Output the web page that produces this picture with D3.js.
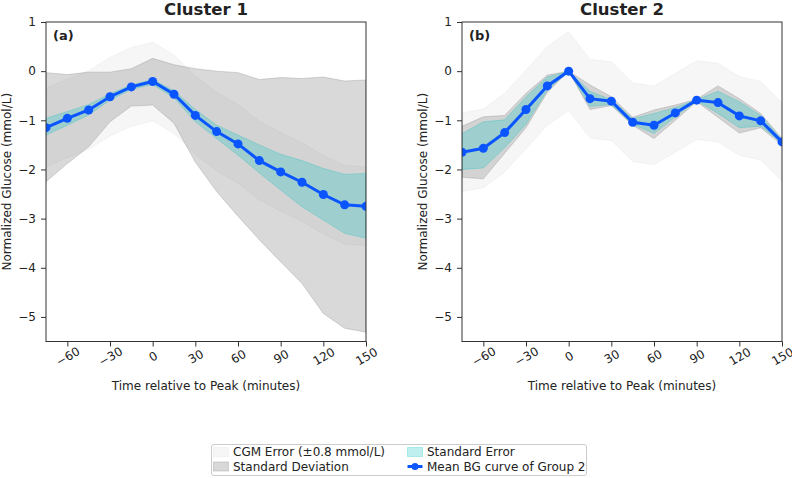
<!DOCTYPE html>
<html>
<head>
<meta charset="utf-8">
<script src="https://cdn.jsdelivr.net/npm/d3@7"></script>
<style>
  body { margin: 0; background: #fff; }
  svg text { font-family: "DejaVu Sans", sans-serif; fill: #222; }
</style>
</head>
<body>
<div id="chart"></div>
<script>
'use strict';

// Data ===========================================

var minutes = [-75, -60, -45, -30, -15, 0, 15, 30, 45, 60, 75, 90, 105, 120, 135, 150];
var xTicks = [-60, -30, 0, 30, 60, 90, 120, 150];
var yTicks = [1, 0, -1, -2, -3, -4, -5];
var cgmError = 0.8; // band is mean +/- 0.8 mmol/L (see legend)

// Cluster 1
var c1Mean = [-1.15, -0.96, -0.79, -0.52, -0.32, -0.21, -0.47, -0.90, -1.23, -1.48, -1.82, -2.05, -2.26, -2.51, -2.72, -2.75];
var c1SdHi = [-0.03, -0.07, -0.02, -0.02, 0.05, 0.26, 0.13, 0.05, 0.0, -0.03, -0.17, -0.13, -0.15, -0.12, -0.20, -0.18];
var c1SdLo = [-2.25, -1.88, -1.54, -1.03, -0.71, -0.69, -1.06, -1.85, -2.45, -2.95, -3.43, -3.88, -4.32, -4.93, -5.23, -5.31];
var c1SeHi = [-0.96, -0.82, -0.68, -0.46, -0.28, -0.17, -0.40, -0.78, -1.10, -1.30, -1.50, -1.69, -1.82, -1.98, -2.10, -2.08];
var c1SeLo = [-1.30, -1.10, -0.89, -0.59, -0.37, -0.27, -0.54, -1.03, -1.37, -1.71, -2.07, -2.42, -2.76, -3.03, -3.30, -3.40];

// Cluster 2
var c2Mean = [-1.65, -1.57, -1.25, -0.78, -0.30, 0.0, -0.56, -0.61, -1.04, -1.10, -0.85, -0.59, -0.64, -0.91, -1.01, -1.44];
var c2SdHi = [-1.12, -0.93, -0.90, -0.45, -0.08, 0.0, -0.28, -0.52, -0.94, -0.79, -0.69, -0.57, -0.30, -0.56, -0.86, -1.37];
var c2SdLo = [-2.16, -2.19, -1.67, -1.15, -0.43, 0.0, -0.78, -0.70, -1.10, -1.37, -1.00, -0.62, -0.94, -1.26, -1.15, -1.50];
var c2SeHi = [-1.27, -1.03, -0.99, -0.52, -0.12, 0.0, -0.41, -0.58, -0.97, -0.86, -0.74, -0.58, -0.41, -0.62, -0.90, -1.40];
var c2SeLo = [-2.00, -1.97, -1.56, -1.08, -0.39, 0.0, -0.72, -0.68, -1.08, -1.27, -0.93, -0.60, -0.86, -1.15, -1.12, -1.46];

var panels = [
  { title: 'Cluster 1', tag: '(a)', left: 46, mean: c1Mean, sdHi: c1SdHi, sdLo: c1SdLo, seHi: c1SeHi, seLo: c1SeLo },
  { title: 'Cluster 2', tag: '(b)', left: 462, mean: c2Mean, sdHi: c2SdHi, sdLo: c2SdLo, seHi: c2SeHi, seLo: c2SeLo }
];

// Sizing things.
var width = 792, height = 478;
var plotW = 320, plotTop = 22, plotBottom = 341.5;
var blue = '#0a55ff';

var svg = d3.select('#chart').append('svg')
    .attr('width', width)
    .attr('height', height);

var y = d3.scaleLinear().domain([-5.5, 1]).range([plotBottom, plotTop]);

function fmt(v) { return String(v).replace('-', '\u2212'); }

panels.forEach(function (p, i) {
  var x = d3.scaleLinear().domain([-75, 150]).range([p.left, p.left + plotW]);

  svg.append('clipPath').attr('id', 'clip' + i)
    .append('rect')
    .attr('x', p.left).attr('y', plotTop)
    .attr('width', plotW).attr('height', plotBottom - plotTop);

  var g = svg.append('g').attr('clip-path', 'url(#clip' + i + ')');

  function band(hi, lo) {
    return d3.area()
      .x(function (d, j) { return x(minutes[j]); })
      .y0(function (d, j) { return y(lo[j]); })
      .y1(function (d, j) { return y(hi[j]); })(minutes);
  }

  var cgmHi = p.mean.map(function (v) { return v + cgmError; });
  var cgmLo = p.mean.map(function (v) { return v - cgmError; });

  // CGM error band
  g.append('path').attr('d', band(cgmHi, cgmLo))
    .attr('fill', '#d3d3d3').attr('fill-opacity', 0.2)
    .attr('stroke', '#d3d3d3').attr('stroke-opacity', 0.2).attr('stroke-width', 1);

  // standard deviation
  g.append('path').attr('d', band(p.sdHi, p.sdLo))
    .attr('fill', '#808080').attr('fill-opacity', 0.3)
    .attr('stroke', '#808080').attr('stroke-opacity', 0.3).attr('stroke-width', 1);

  // standard error
  g.append('path').attr('d', band(p.seHi, p.seLo))
    .attr('fill', '#00bfbf').attr('fill-opacity', 0.25)
    .attr('stroke', '#00bfbf').attr('stroke-opacity', 0.25).attr('stroke-width', 1);

  // mean curve
  g.append('path')
    .attr('d', d3.line()
      .x(function (d, j) { return x(minutes[j]); })
      .y(function (d) { return y(d); })(p.mean))
    .attr('fill', 'none').attr('stroke', blue).attr('stroke-width', 3);

  g.selectAll('circle.pt').data(p.mean).enter().append('circle')
    .attr('class', 'pt')
    .attr('cx', function (d, j) { return x(minutes[j]); })
    .attr('cy', function (d) { return y(d); })
    .attr('r', 4.5)
    .attr('fill', blue);

  // axes
  var xAxis = svg.append('g')
    .attr('transform', 'translate(0,' + plotBottom + ')')
    .call(d3.axisBottom(x).tickValues(xTicks).tickSize(5).tickPadding(3).tickFormat(fmt));
  xAxis.select('.domain').remove();
  xAxis.selectAll('text')
    .attr('font-size', 12)
    .attr('text-anchor', 'middle')
    .attr('dy', '0.35em')
    .attr('y', null)
    .attr('transform', 'translate(0,15) rotate(-30)');
  xAxis.selectAll('.tick line').attr('stroke', '#333');

  var yAxis = svg.append('g')
    .attr('transform', 'translate(' + p.left + ',0)')
    .call(d3.axisLeft(y).tickValues(yTicks).tickSize(5).tickPadding(5).tickFormat(fmt));
  yAxis.select('.domain').remove();
  yAxis.selectAll('text').attr('font-size', 12);
  yAxis.selectAll('.tick line').attr('stroke', '#333');

  svg.append('rect')
    .attr('x', p.left).attr('y', plotTop)
    .attr('width', plotW).attr('height', plotBottom - plotTop)
    .attr('fill', 'none').attr('stroke', '#333').attr('stroke-width', 1);

  // titles and labels
  svg.append('text')
    .attr('x', p.left + plotW / 2).attr('y', 15)
    .attr('text-anchor', 'middle')
    .attr('font-size', 16.5).attr('font-weight', 'bold')
    .text(p.title);

  svg.append('text')
    .attr('x', p.left + 7).attr('y', 40)
    .attr('font-size', 13).attr('font-weight', 'bold')
    .text(p.tag);

  svg.append('text')
    .attr('x', p.left + plotW / 2).attr('y', 390)
    .attr('text-anchor', 'middle')
    .attr('font-size', 12)
    .text('Time relative to Peak (minutes)');

  svg.append('text')
    .attr('transform', 'translate(' + (p.left - 35) + ',' + ((plotTop + plotBottom) / 2) + ') rotate(-90)')
    .attr('text-anchor', 'middle')
    .attr('font-size', 12)
    .text('Normalized Glucose (mmol/L)');
});

// Legend at the bottom ===========================
var legend = svg.append('g');
legend.append('rect')
  .attr('x', 211.5).attr('y', 444.5)
  .attr('width', 375).attr('height', 31)
  .attr('rx', 2.5)
  .attr('fill', '#fff').attr('stroke', '#cccccc').attr('stroke-width', 1);

var legendItems = [
  { label: 'CGM Error (\u00b10.8 mmol/L)', col: 0, row: 0, fill: '#d3d3d3', op: 0.2 },
  { label: 'Standard Deviation', col: 0, row: 1, fill: '#808080', op: 0.3 },
  { label: 'Standard Error', col: 1, row: 0, fill: '#00bfbf', op: 0.25 },
  { label: 'Mean BG curve of Group 2', col: 1, row: 1, line: true }
];
var colX = [213.5, 407.5];
var rowY = [452, 466.5];

legendItems.forEach(function (it) {
  var lx = colX[it.col], ly = rowY[it.row];
  if (it.line) {
    legend.append('line')
      .attr('x1', lx).attr('x2', lx + 15).attr('y1', ly).attr('y2', ly)
      .attr('stroke', blue).attr('stroke-width', 3);
    legend.append('circle').attr('cx', lx + 7.5).attr('cy', ly).attr('r', 3.5).attr('fill', blue);
  } else {
    legend.append('rect')
      .attr('x', lx).attr('y', ly - 4.5).attr('width', 15).attr('height', 9)
      .attr('fill', it.fill).attr('fill-opacity', it.op)
      .attr('stroke', it.fill).attr('stroke-opacity', it.op);
  }
  legend.append('text')
    .attr('x', lx + 19.5).attr('y', ly + 4.3)
    .attr('font-size', 12)
    .text(it.label);
});
</script>
</body>
</html>
